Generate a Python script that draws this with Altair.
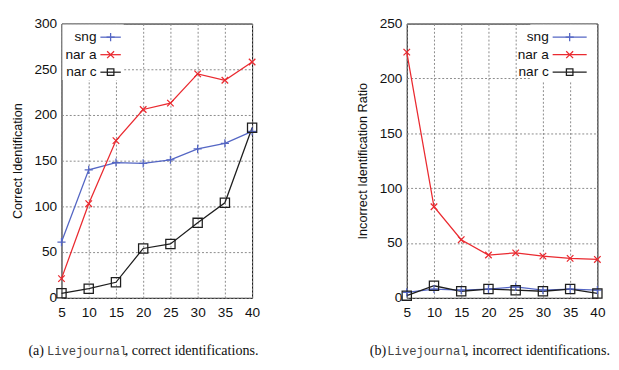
import altair as alt
import pandas as pd

x_vals = [5, 10, 15, 20, 25, 30, 35, 40]
series = ["sng", "nar a", "nar c"]

correct_sng = [61, 140, 148, 147, 151, 163, 169, 182]
correct_nara = [21, 103, 172, 206, 213, 245, 238, 258]
correct_narc = [5, 10, 17, 54, 59, 82, 104, 186]

incorrect_sng = [5, 8, 7, 8, 10, 7, 8, 7]
incorrect_nara = [224, 83, 53, 39, 41, 38, 36, 35]
incorrect_narc = [2, 11, 6, 8, 7, 6, 8, 4]

y_ticks_left = [0, 50, 100, 150, 200, 250, 300]
y_ticks_right = [0, 50, 100, 150, 200, 250]

colors = ["#5466c4", "#ea2a30", "#1e1e1e"]
shapes = ["M-1,0L1,0M0,-1L0,1", "M-0.75,-0.75L0.75,0.75M0.75,-0.75L-0.75,0.75", "square"]
sizes = [70, 90, 45]

W_L, W_R, H = 196, 196, 282
LABEL_FONT = "Liberation Sans Narrow, Liberation Sans, Arial, sans-serif"
SERIF = "Liberation Serif, Times New Roman, serif"
MONO = "Liberation Mono, DejaVu Sans Mono, monospace"


def make_df(vals):
    rows = []
    for s, v in zip(series, vals):
        for x, y in zip(x_vals, v):
            rows.append({"x": x, "y": y, "series": s})
    return pd.DataFrame(rows)


one = pd.DataFrame({"a": [0]})


def panel(df, ymax, yticks, ytitle, width, leg_lab_x, leg_x0, leg_x1, leg_rows, box, caption):
    color = alt.Color("series:N", scale=alt.Scale(domain=series, range=colors), legend=None)
    xenc = alt.X("x:Q", scale=alt.Scale(domain=[5, 40], nice=False),
                 axis=alt.Axis(values=x_vals, title=None, grid=True, labelPadding=8,
                               labelOverlap=False, labelFlush=False, labelBound=False))
    yenc = alt.Y("y:Q", scale=alt.Scale(domain=[0, ymax], nice=False),
                 axis=alt.Axis(values=yticks, title=ytitle, grid=True, labelPadding=5, titlePadding=10,
                               labelOverlap=False, labelFlush=False))
    base = alt.Chart(df)
    lines = base.mark_line(strokeWidth=1.3).encode(x=xenc, y=yenc, color=color, detail="series:N")
    pts = base.mark_point(filled=False, strokeWidth=1.3, opacity=1).encode(
        x=xenc, y=yenc, color=color,
        shape=alt.Shape("series:N", scale=alt.Scale(domain=series, range=shapes), legend=None),
        size=alt.Size("series:N", scale=alt.Scale(domain=series, range=sizes), legend=None),
    )
    layers = []
    layers.append(alt.Chart(one).mark_rect(fill="white").encode(
        x=alt.value(box[0]), x2=alt.value(box[1]), y=alt.value(box[2]), y2=alt.value(box[3])))
    for i, s in enumerate(series):
        ry = leg_rows[i]
        layers.append(alt.Chart(one).mark_text(align="right", baseline="middle", font=LABEL_FONT,
                                               fontSize=14, color="#111").encode(
            x=alt.value(leg_lab_x), y=alt.value(ry), text=alt.value(s)))
        layers.append(alt.Chart(one).mark_rule(strokeWidth=1.3, color=colors[i]).encode(
            x=alt.value(leg_x0), x2=alt.value(leg_x1), y=alt.value(ry)))
        layers.append(alt.Chart(one).mark_point(filled=False, strokeWidth=1.3, opacity=1,
                                                color=colors[i], shape=shapes[i], size=sizes[i]).encode(
            x=alt.value((leg_x0 + leg_x1) / 2), y=alt.value(ry)))
    for (txt, cx, font, fsize, col) in caption:
        layers.append(alt.Chart(one).mark_text(align="left", baseline="middle", font=font,
                                               fontSize=fsize, color=col).encode(
            x=alt.value(cx), y=alt.value(H + 55), text=alt.value(txt)))
    return alt.layer(lines, pts, *layers).properties(width=width, height=H)


left = panel(
    make_df([correct_sng, correct_nara, correct_narc]), 300, y_ticks_left, "Correct Identification", W_L,
    leg_lab_x=36, leg_x0=40, leg_x1=61, leg_rows=[14, 32, 50], box=(1, 64, 1, 58),
    caption=[("(a)", -34, SERIF, 14.5, "#111"),
             ("Livejournal", -15, MONO, 12.5, "#444"),
             (", correct identifications.", 65, SERIF, 14.5, "#111")],
)
right = panel(
    make_df([incorrect_sng, incorrect_nara, incorrect_narc]), 250, y_ticks_right, "Incorrect Identification Ratio", W_R,
    leg_lab_x=146, leg_x0=150, leg_x1=185, leg_rows=[14, 32, 50], box=(127, 195, 1, 60),
    caption=[("(b)", -38, SERIF, 14.5, "#111"),
             ("Livejournal", -20, MONO, 12.5, "#444"),
             (", incorrect identifications.", 60, SERIF, 14.5, "#111")],
)

chart = alt.hconcat(left, right, spacing=159).properties(
    bounds="flush", padding={"left": 3, "top": 3, "right": 0, "bottom": 0}
).configure_view(stroke="#000", strokeWidth=1).configure_axis(
    labelFont=LABEL_FONT, labelFontSize=14, labelColor="#111",
    titleFont="Liberation Sans", titleFontSize=13, titleFontWeight="normal", titleColor="#111",
    gridDash=[2, 2], gridColor="#888", gridOpacity=1, ticks=False, domain=False,
    labelOverlap=False,
)

chart.save("out.html", embed_options={"renderer": "svg", "actions": False})
